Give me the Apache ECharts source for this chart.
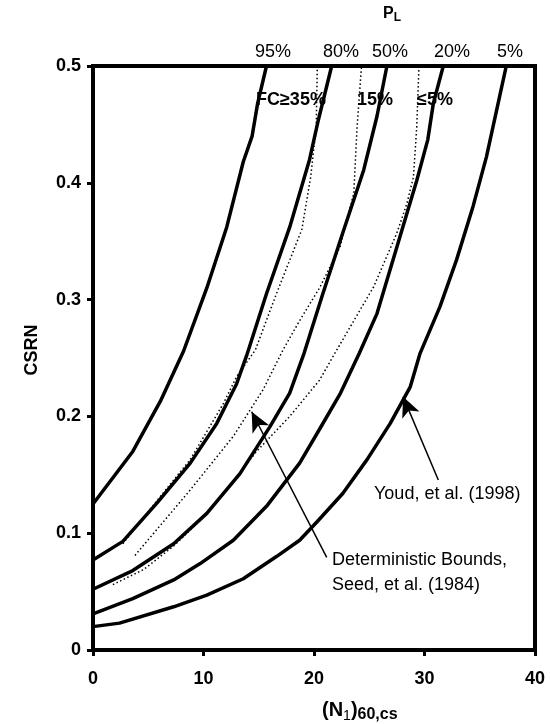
<!DOCTYPE html>
<html>
<head>
<meta charset="utf-8">
<script src="https://cdn.jsdelivr.net/npm/echarts@6/dist/echarts.min.js"></script>
<style>html,body{margin:0;padding:0;background:#fff}#c{width:551px;height:724px}</style>
</head>
<body>
<div id="c"></div>
<script>
// Probability-of-liquefaction curves (x = (N1)60,cs, y = CSRN)
const pl95 = [[0,0.125],[3.6,0.170],[6.1,0.213],[8.2,0.256],[10.3,0.310],[12.1,0.362],[13.6,0.418],[14.4,0.440],[14.9,0.468],[15.7,0.5]];
const pl80 = [[0,0.077],[2.7,0.093],[5.8,0.126],[8.8,0.160],[11.2,0.194],[13.0,0.228],[13.9,0.252],[15.7,0.305],[17.8,0.362],[19.6,0.420],[20.4,0.454],[21.6,0.5]];
const pl50 = [[0,0.052],[3.6,0.068],[7.3,0.091],[10.3,0.117],[13.3,0.151],[16.0,0.191],[17.8,0.220],[19.1,0.254],[20.8,0.305],[22.6,0.357],[24.5,0.411],[25.7,0.457],[26.6,0.5]];
const pl20 = [[0,0.031],[3.6,0.044],[7.3,0.060],[9.7,0.074],[12.7,0.094],[15.7,0.123],[18.7,0.160],[20.5,0.189],[22.4,0.220],[24.1,0.254],[25.7,0.288],[27.5,0.345],[29.3,0.402],[30.3,0.437],[30.8,0.468],[31.7,0.5]];
const pl05 = [[0,0.020],[2.4,0.023],[7.3,0.037],[10.3,0.047],[13.6,0.061],[16.6,0.080],[18.7,0.094],[20.3,0.110],[22.6,0.134],[24.8,0.163],[26.9,0.194],[28.7,0.225],[29.6,0.254],[31.4,0.294],[32.9,0.334],[34.4,0.380],[35.6,0.422],[36.8,0.474],[37.4,0.5]];
// Deterministic bounds, Seed et al. (1984) (dotted)
const fc35 = [[2.7,0.091],[5.8,0.128],[8.8,0.163],[11.8,0.211],[13.0,0.234],[14.7,0.257],[16.6,0.305],[18.9,0.360],[19.7,0.405],[20.2,0.448],[20.3,0.5]];
const fc15 = [[3.8,0.081],[8.8,0.137],[12.7,0.183],[15.4,0.223],[17.2,0.257],[18.7,0.282],[20.5,0.310],[22.35,0.345],[23.6,0.391],[23.9,0.448],[24.3,0.5]];
const fc05 = [[1.8,0.056],[4.6,0.069],[7.3,0.089],[9.7,0.111],[12.4,0.141],[14.8,0.170],[17.8,0.200],[20.5,0.231],[21.7,0.251],[23.3,0.277],[25.4,0.311],[27.5,0.357],[28.4,0.382],[29.0,0.405],[29.3,0.448],[29.5,0.5]];
// Annotation arrows [tail, head]
const arrowYoud = [[31.25,0.1455],[28.06,0.2169]];
const arrowSeed = [[21.15,0.0793],[14.36,0.2040]];
const plLabels = ['95%','80%','50%','20%','5%'];
const fcLabels = ['FC\u226535%','15%','\u22645%'];
const xTicks = [0,10,20,30,40];
const yTicks = [0,0.1,0.2,0.3,0.4,0.5];

const F = "'Liberation Sans', Arial, Helvetica, sans-serif";
const chart = echarts.init(document.getElementById('c'), null, {renderer:'canvas'});

function solid(d){return {type:'line',data:d,symbol:'none',smooth:false,lineStyle:{color:'#000',width:3.5},silent:true,z:3};}
function dotted(d){return {type:'line',data:d,symbol:'none',smooth:false,lineStyle:{color:'#000',width:1.5,type:[1.5,2.5]},silent:true,z:2};}
function arrow(a){return {type:'line',data:[],markLine:{silent:true,symbol:['none','arrow'],symbolSize:[14,20],label:{show:false},lineStyle:{color:'#000',width:1.5,type:'solid'},data:[[{coord:a[0]},{coord:a[1]}]]}};}

const plX = [273,341,390,452,510];
const fcX = [256,357,417];
const graphics = [];
plLabels.forEach((t,i)=>graphics.push({type:'text',x:plX[i],y:52,style:{text:t,font:'18px '+F,fill:'#000',textAlign:'center',textVerticalAlign:'middle'}}));
fcLabels.forEach((t,i)=>graphics.push({type:'text',x:fcX[i],y:100,style:{text:t,font:'bold 18px '+F,fill:'#000',textAlign:'left',textVerticalAlign:'middle'}}));
graphics.push({type:'text',x:383,y:14,style:{rich:{a:{fontFamily:F,fontSize:16,fontWeight:'bold',lineHeight:20,verticalAlign:'middle'},b:{fontFamily:F,fontSize:12,fontWeight:'bold',lineHeight:20,verticalAlign:'bottom'}},text:'{a|P}{b|L}',textVerticalAlign:'middle'}});
graphics.push({type:'text',x:32,y:350,rotation:Math.PI/2,style:{text:'CSRN',font:'bold 18px '+F,fill:'#000',textAlign:'center',textVerticalAlign:'middle'}});
graphics.push({type:'text',x:322,y:710,style:{rich:{a:{fontFamily:F,fontSize:20,fontWeight:'bold',lineHeight:26,verticalAlign:'middle'},b:{fontFamily:F,fontSize:14,lineHeight:26,verticalAlign:'bottom'},c:{fontFamily:F,fontSize:16,fontWeight:'bold',lineHeight:26,verticalAlign:'bottom'}},text:'{a|(N}{b|1}{a|)}{c|60,cs}',textVerticalAlign:'middle'}});
graphics.push({type:'text',x:374,y:494,style:{text:'Youd, et al. (1998)',font:'18px '+F,fill:'#000',textAlign:'left',textVerticalAlign:'middle'}});
graphics.push({type:'text',x:332,y:560,style:{text:'Deterministic Bounds,',font:'18px '+F,fill:'#000',textAlign:'left',textVerticalAlign:'middle'}});
graphics.push({type:'text',x:332,y:585,style:{text:'Seed, et al. (1984)',font:'18px '+F,fill:'#000',textAlign:'left',textVerticalAlign:'middle'}});

chart.setOption({
  animation:false,
  backgroundColor:'#fff',
  grid:{left:93,right:16,top:66,bottom:74,show:true,borderColor:'#000',borderWidth:4,backgroundColor:'transparent'},
  xAxis:{type:'value',min:0,max:40,interval:10,
    axisLine:{show:true,onZero:false,lineStyle:{color:'#000',width:4}},
    axisTick:{show:true,inside:false,length:6,lineStyle:{color:'#000',width:3}},
    splitLine:{show:false},
    axisLabel:{margin:20,color:'#000',fontFamily:F,fontSize:18,fontWeight:'bold',formatter:v=>xTicks.includes(v)?String(v):''}},
  yAxis:{type:'value',min:0,max:0.5,interval:0.1,
    axisLine:{show:true,onZero:false,lineStyle:{color:'#000',width:4}},
    axisTick:{show:true,inside:false,length:6,lineStyle:{color:'#000',width:3}},
    splitLine:{show:false},
    axisLabel:{margin:12,color:'#000',fontFamily:F,fontSize:18,fontWeight:'bold',formatter:v=>{const r=Math.round(v*10)/10;return r===0?'0':r.toFixed(1);}}},
  series:[solid(pl95),solid(pl80),solid(pl50),solid(pl20),solid(pl05),dotted(fc35),dotted(fc15),dotted(fc05),arrow(arrowYoud),arrow(arrowSeed)],
  graphic:graphics
});
</script>
</body>
</html>
